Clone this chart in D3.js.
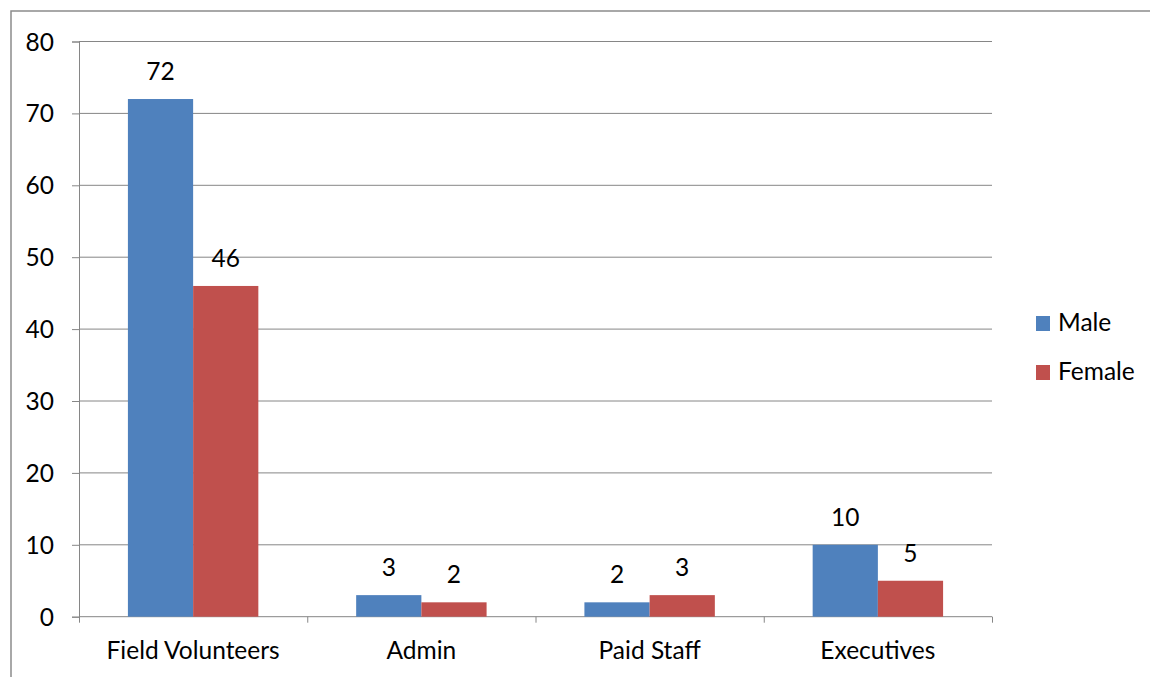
<!DOCTYPE html>
<html>
<head>
<meta charset="utf-8">
<script src="https://cdn.jsdelivr.net/npm/d3@7"></script>
<style>
  body { margin: 0; background: #fff; }
  svg text { font-family: Lato, "Open Sans", sans-serif; fill: #000; }
</style>
</head>
<body>
<div id="chart"></div>
<script>
// Data
let categories = ['Field Volunteers', 'Admin', 'Paid Staff', 'Executives']
let seriesNames = ['Male', 'Female']
let maleValues = [72, 3, 2, 10]
let femaleValues = [46, 2, 3, 5]
let yTicks = [0, 10, 20, 30, 40, 50, 60, 70, 80]
let colors = ['#4F81BD', '#C0504D']

// Set bounds
let svgWidth = 1150, svgHeight = 677
let margin = { top: 41.5, left: 79, right: 158, bottom: 60.3 }
let width = svgWidth - margin.left - margin.right
let height = svgHeight - margin.top - margin.bottom
let fontSize = 24.5

let rows = categories.map((c, i) => ({ cat: c, values: [maleValues[i], femaleValues[i]] }))

let svg = d3.select('#chart')
    .append('svg')
    .attr('width', svgWidth)
    .attr('height', svgHeight)

// Outer chart border (only top and left visible in the crop)
svg.append('path')
    .attr('d', 'M11,' + svgHeight + 'V11H' + svgWidth)
    .attr('fill', 'none')
    .attr('stroke', '#8c8c8c')
    .attr('stroke-width', 1.5)

let g = svg.append('g')
    .attr('transform', 'translate(' + margin.left + ',' + margin.top + ')')

// Scales
let x0 = d3.scaleBand()
    .domain(categories)
    .range([0, width])
    .paddingInner(0)
    .paddingOuter(0)
// gap width 150% -> bars take 2/3.5 of each category
let groupWidth = x0.bandwidth() * 2 / 3.5
let x1 = d3.scaleBand()
    .domain(seriesNames)
    .range([0, groupWidth])

let y = d3.scaleLinear()
    .domain([0, 80])
    .range([height, 0])

// Gridlines
g.append('g')
    .selectAll('line')
    .data(yTicks.filter(d => d > 0))
    .enter().append('line')
    .attr('x1', 0)
    .attr('x2', width)
    .attr('y1', d => y(d))
    .attr('y2', d => y(d))
    .attr('stroke', '#868686')
    .attr('stroke-width', 1)

// Y axis
let yAxis = g.append('g')
    .call(d3.axisLeft(y).tickValues(yTicks).tickSize(7).tickPadding(18))
yAxis.select('.domain').attr('stroke', '#868686')
yAxis.selectAll('.tick line').attr('stroke', '#868686')
yAxis.selectAll('.tick text')
    .style('font-size', fontSize + 'px')
    .attr('dy', '0.35em')

// X axis
let xAxisScale = d3.scaleLinear().domain([0, categories.length]).range([0, width])
let xAxis = g.append('g')
    .attr('transform', 'translate(0,' + height + ')')
    .call(d3.axisBottom(xAxisScale).tickValues(d3.range(categories.length + 1)).tickSize(6).tickFormat(''))
xAxis.select('.domain').attr('stroke', '#868686').attr('d', 'M0,0H' + width)
xAxis.selectAll('.tick line').attr('stroke', '#868686')

g.append('g')
    .selectAll('text')
    .data(categories)
    .enter().append('text')
    .attr('x', d => x0(d) + x0.bandwidth() / 2)
    .attr('y', height + 42)
    .attr('text-anchor', 'middle')
    .style('font-size', fontSize + 'px')
    .text(d => d)

// Bars
let groups = g.selectAll('.grp')
    .data(rows)
    .enter().append('g')
    .attr('class', 'grp')
    .attr('transform', d => 'translate(' + (x0(d.cat) + (x0.bandwidth() - groupWidth) / 2) + ',0)')

groups.selectAll('rect')
    .data(d => d.values.map((v, i) => ({ name: seriesNames[i], value: v })))
    .enter().append('rect')
    .attr('x', d => x1(d.name))
    .attr('y', d => y(d.value))
    .attr('width', x1.bandwidth())
    .attr('height', d => height - y(d.value))
    .attr('fill', (d, i) => colors[i])

// Data labels
groups.selectAll('text')
    .data(d => d.values.map((v, i) => ({ name: seriesNames[i], value: v })))
    .enter().append('text')
    .attr('x', d => x1(d.name) + x1.bandwidth() / 2)
    .attr('y', d => y(d.value) - 19)
    .attr('text-anchor', 'middle')
    .style('font-size', fontSize + 'px')
    .text(d => d.value)

// Legend
let legend = svg.append('g')
    .selectAll('g')
    .data(seriesNames)
    .enter().append('g')
    .attr('transform', (d, i) => 'translate(1036,' + (316 + i * 49) + ')')
legend.append('rect')
    .attr('width', 14)
    .attr('height', 15)
    .attr('fill', (d, i) => colors[i])
legend.append('text')
    .attr('x', 22)
    .attr('y', 15)
    .style('font-size', fontSize + 'px')
    .text(d => d)
</script>
</body>
</html>
